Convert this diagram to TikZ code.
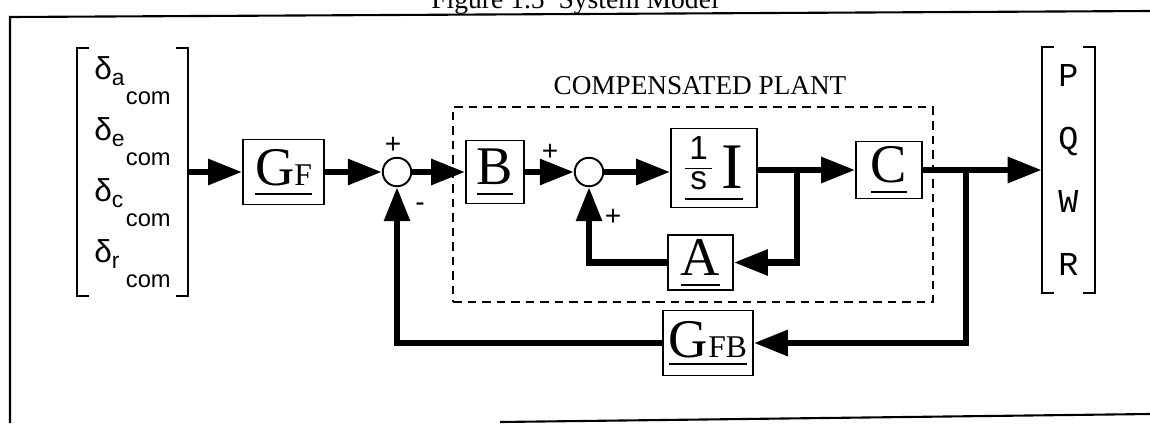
\documentclass[tikz,border=0pt]{standalone}
\usepackage{fontspec}
\setmainfont{Liberation Serif}
\setsansfont{Liberation Sans}
\setmonofont{Liberation Mono}
\usetikzlibrary{arrows.meta}

\newsavebox\ulbox
\newcommand{\ubar}[2][6pt]{\sbox\ulbox{#2}\rlap{\rule[-#1]{\wd\ulbox}{1.2pt}}\usebox\ulbox}
\newcommand{\dcom}[1]{δ\raisebox{-3.4pt}{\makebox[8pt][l]{\fontsize{13}{14}\selectfont #1}}\raisebox{-14pt}{\fontsize{13.5}{14}\selectfont com}}
\newcommand{\oneovers}{\raisebox{8pt}{\sffamily\fontsize{19}{20}\selectfont\setlength{\arrayrulewidth}{1.1pt}\renewcommand{\arraystretch}{0.8}\begin{tabular}{@{\hspace{2.5pt}}c@{\hspace{2.5pt}}}1\\\hline s\end{tabular}}}

\begin{document}
\begin{tikzpicture}[x=0.02cm, y=-0.02cm, >={Triangle[length=0.68cm,width=0.5cm]}]
            \tikzstyle{blk}=[draw, line width=1.1pt, inner sep=0pt, font=\fontsize{31}{32}\selectfont];
            \tikzstyle{sum}=[circle, draw, line width=1.1pt, minimum size=0.57cm, inner sep=0pt];
            \tikzstyle{sig}=[line width=3.5pt];
            \tikzstyle{sgn}=[inner sep=0pt, font=\sffamily\fontsize{16}{16}\selectfont];
            \tikzstyle{vec}=[inner sep=0pt, align=center];
            \tikzstyle{brk}=[line width=1.1pt];
            \tikzstyle{frame}=[line width=1.2pt];
            \tikzstyle{plantbox}=[draw, line width=1.1pt, dash pattern=on 0.17cm off 0.12cm];
            \useasboundingbox (0,0) rectangle (1150,423);

            \node[anchor=base, font=\fontsize{15.7}{16}\selectfont] (title) at (575,8) {Figure 1.5\enspace System Model};
            \draw[frame] (10,423) -- (10,17) -- (1150,11);
            \draw[frame] (500,422) -- (1150,414);

            \node[plantbox, minimum width=9.6cm, minimum height=3.9cm] (plant) at (693,204.5) {};
            \node[font=\fontsize{15.5}{16}\selectfont] (plantlbl) at (700,86) {COMPENSATED PLANT};

            \node[vec, align=left, minimum width=2.22cm, minimum height=4.96cm,
                  font=\sffamily\fontsize{18}{34.7}\selectfont] (u) at (132.5,172)
                  {\dcom{a}\\\dcom{e}\\\dcom{c}\\\dcom{r}};
            \draw[brk] ([xshift=0.24cm]u.north west) -- (u.north west) -- (u.south west) -- ([xshift=0.24cm]u.south west);
            \draw[brk] ([xshift=-0.24cm]u.north east) -- (u.north east) -- (u.south east) -- ([xshift=-0.24cm]u.south east);

            \node[blk, minimum width=1.62cm, minimum height=1.3cm] (gf) at (283.5,172)
                  {\ubar[5.5pt]{G{\fontsize{18}{18}\selectfont F}}} edge[sig, <-] (u);
            \node[sum] (c1) at (397,172) {} edge[sig, <-] (gf);
            \node[blk, minimum width=1.16cm, minimum height=1.26cm] (b) at (495,172) {\ubar{B}} edge[sig, <-] (c1);
            \node[sum] (c2) at (589,172) {} edge[sig, <-] (b);
            \node[blk, minimum width=1.72cm, minimum height=1.58cm] (isI) at (714,168)
                  {\ubar[6.5pt]{\oneovers\,{\fontsize{37}{38}\selectfont I}}};
            \draw[sig, ->] (c2) -- (c2 -| isI.west);
            \node[blk, minimum width=1.32cm, minimum height=1.14cm] (c) at (889,170) {\ubar{C}};
            \coordinate (j1) at (797,170);
            \coordinate (j2) at (966,170);
            \draw[sig, ->] (isI.east |- j1) -- (c);
            \node[blk, minimum width=1.3cm, minimum height=1.1cm] (a) at (700.5,262.5) {\ubar{A}};
            \node[blk, minimum width=1.8cm, minimum height=1.3cm] (gfb) at (708,343)
                  {\ubar[4.5pt]{G{\fontsize{18}{18}\selectfont FB}}};

            \node[vec, minimum width=1.06cm, minimum height=4.9cm,
                  font=\ttfamily\fontsize{19}{35.9}\selectfont] (y) at (1068.5,170) {P\\Q\\W\\R} edge[sig, <-] (c);
            \draw[brk] ([xshift=0.24cm]y.north west) -- (y.north west) -- (y.south west) -- ([xshift=0.24cm]y.south west);
            \draw[brk] ([xshift=-0.24cm]y.north east) -- (y.north east) -- (y.south east) -- ([xshift=-0.24cm]y.south east);

            \draw[sig, ->] (j1) |- (a);
            \draw[sig, ->] (a) -| (c2);
            \draw[sig, ->] (j2) |- (gfb);
            \draw[sig, ->] (gfb) -| (c1);

            \node[sgn] (p1) at (393,145) {+};
            \node[sgn] (m1) at (420,207) {-};
            \node[sgn] (p2) at (550,152) {+};
            \node[sgn] (p3) at (613,217) {+};
         \end{tikzpicture}
\end{document}
